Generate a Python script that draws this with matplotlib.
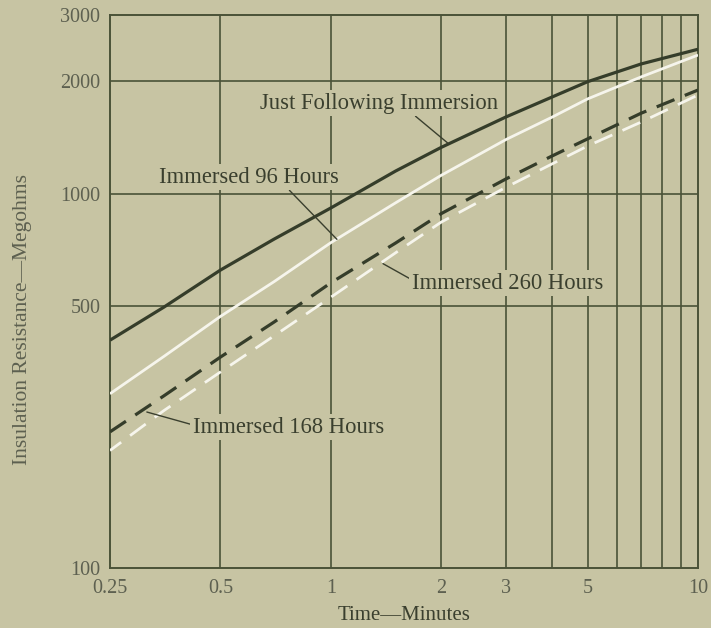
import matplotlib
matplotlib.use("Agg")
import matplotlib.pyplot as plt
from matplotlib.ticker import FixedLocator, NullLocator, FixedFormatter

plt.rcParams['font.family'] = ['Liberation Serif', 'DejaVu Serif']

# ---- data ----
time_min = [0.25, 0.35, 0.5, 0.7, 1, 1.5, 2, 3, 4, 5, 7, 10]
just_following = [406, 497, 625, 756, 916, 1149, 1330, 1603, 1811, 1990, 2220, 2430]
immersed_96 = [292, 367, 470, 582, 740, 945, 1120, 1395, 1600, 1790, 2050, 2345]
immersed_168 = [231, 288, 366, 454, 578, 738, 885, 1095, 1260, 1400, 1640, 1891]
immersed_260 = [206, 263, 334, 417, 529, 695, 840, 1040, 1200, 1340, 1553, 1834]

x_ticks = [0.25, 0.5, 1, 2, 3, 5, 10]
x_tick_labels = ['0.25', '0.5', '1', '2', '3', '5', '10']
x_grid = [0.5, 1, 2, 3, 4, 5, 6, 7, 8, 9]
y_ticks = [100, 500, 1000, 2000, 3000]
y_tick_labels = ['100', '500', '1000', '2000', '3000']
y_grid = [500, 1000, 2000]

bg = '#c7c4a3'
dark = '#353d2a'
gridc = '#4a5238'
white = '#f6f5ec'
textc = '#3a3f2e'
tickc = '#5d6050'

fig = plt.figure(figsize=(7.11, 6.28), dpi=100, facecolor=bg)
ax = fig.add_axes([110/711, 1-568/628, (698-110)/711, (568-15)/628])
ax.set_facecolor(bg)
ax.set_xscale('log')
ax.set_yscale('log')
ax.set_xlim(0.25, 10)
ax.set_ylim(100, 3000)

for xv in x_grid:
    ax.axvline(xv, color=gridc, lw=1.2, zorder=1)
for yv in y_grid:
    ax.axhline(yv, color=gridc, lw=1.2, zorder=1)
for s in ax.spines.values():
    s.set_color(gridc)
    s.set_linewidth(1.4)

ax.xaxis.set_major_locator(FixedLocator(x_ticks))
ax.xaxis.set_major_formatter(FixedFormatter(x_tick_labels))
ax.xaxis.set_minor_locator(NullLocator())
ax.yaxis.set_major_locator(FixedLocator(y_ticks))
ax.yaxis.set_major_formatter(FixedFormatter(y_tick_labels))
ax.yaxis.set_minor_locator(NullLocator())
ax.tick_params(axis='both', length=0, labelsize=14.5, colors=tickc)
ax.tick_params(axis='x', pad=8)
ax.tick_params(axis='y', pad=7)

ax.plot(time_min, just_following, color=dark, lw=2.3, zorder=4, solid_capstyle='butt')
ax.plot(time_min, immersed_96, color=white, lw=2.0, zorder=3, solid_capstyle='butt')
ax.plot(time_min, immersed_260, color=white, lw=2.0, zorder=3, linestyle=(2, (7, 4)))
ax.plot(time_min, immersed_168, color=dark, lw=2.3, zorder=4, linestyle=(0, (6, 3.5)))

ax.set_xlabel('Time\u2014Minutes', fontsize=15, color=textc, labelpad=6)
ax.set_ylabel('Insulation Resistance\u2014Megohms', fontsize=15.5, color=tickc)
ax.yaxis.set_label_coords(-0.133, 0.45)

box = dict(boxstyle='square,pad=0.12', facecolor=bg, edgecolor='none')


def label(text, xy, xytext, ha, relpos):
    ax.annotate(text, xy=xy, xytext=xytext, ha=ha, va='center', fontsize=16.3,
                color=textc, bbox=box, zorder=5,
                arrowprops=dict(arrowstyle='-', color=textc, lw=1.0, shrinkA=0,
                                shrinkB=0, relpos=relpos))


label('Just Following Immersion', (2.08, 1365), (1.351, 1746), 'center', (0.64, 0.0))
label('Immersed 96 Hours', (1.038, 755), (0.598, 1107), 'center', (0.71, 0.0))
label('Immersed 260 Hours', (1.386, 650), (1.663, 577), 'left', (0.0, 0.65))
label('Immersed 168 Hours', (0.315, 261), (0.4207, 238), 'left', (0.0, 0.6))

fig.savefig('out.png', dpi=100, facecolor=bg)
